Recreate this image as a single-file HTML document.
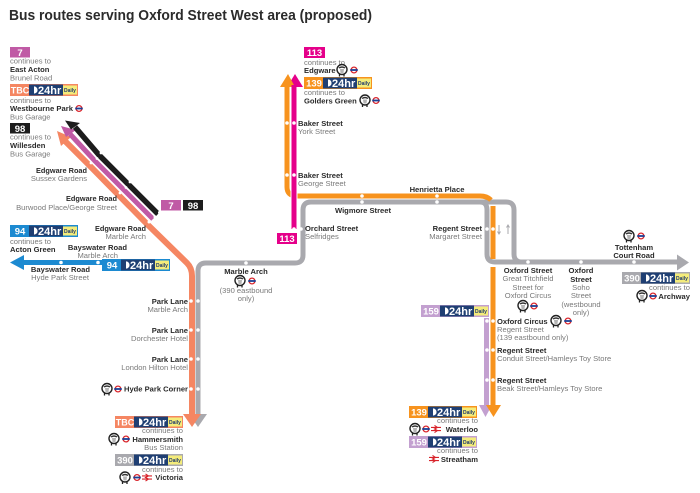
<!DOCTYPE html>
<html><head><meta charset="utf-8"><style>
html,body{margin:0;padding:0;background:#fff}
svg{display:block}
text{font-family:"Liberation Sans",sans-serif}
.b{font-size:7.6px;font-weight:bold;fill:#2a2a2a}
.g{font-size:7.6px;fill:#7a7a7a}
.r{text-anchor:end}.m{text-anchor:middle}
.n{font-size:9.5px;font-weight:bold;fill:#fff;text-anchor:middle}
.s{font-size:9px}
.h{font-size:11px;font-weight:bold;fill:#fff}
.d{font-size:5px;font-weight:bold;fill:#1f3a6e;text-anchor:middle}
.w{fill:#fff}
</style></head><body>
<svg width="700" height="493" viewBox="0 0 700 493" xmlns="http://www.w3.org/2000/svg">
<defs>
<g id="rd"><circle r="2.9" fill="none" stroke="#d8232a" stroke-width="1.3"/><rect x="-3.8" y="-0.9" width="7.6" height="1.8" fill="#1c3f94"/></g>
<g id="fc"><circle cy="-0.5" r="5" fill="#fff" stroke="#222" stroke-width="1.4"/><path d="M-3.5-2.500Q0-5 3.500-2.500L2.500-1.500Q0-3 -2.500-1.500Z" fill="#333"/><path d="M-2-1H2L1.500 3H-1.500Z" fill="#b5b5b5"/><path d="M-2.500 3.500V6.500M2 3.500V6.500" stroke="#222" stroke-width="1.300" fill="none"/></g>
<g id="nr" fill="none" stroke="#d8232a" stroke-width="1.1"><path d="M-5-1.600H5M-5 1.600H5M-1.500-3.600 1.500-1.600-1.500 0 1.500 1.600-1.500 3.600"/></g>
<g id="bb"><rect x="19" y="0.500" width="34" height="11" fill="#1f3f73"/><circle cx="24" cy="6" r="4.600" fill="#1f3f73"/><path d="M24 2.400A3.600 3.600 0 0 1 24 9.600Z" fill="#fff"/><rect x="53" y="1.500" width="14" height="9" fill="#f4ec7a"/></g>
</defs>

<text x="9" y="20" font-size="14.5" font-weight="bold" fill="#2b2b2b" textLength="363" lengthAdjust="spacingAndGlyphs">Bus routes serving Oxford Street West area (proposed)</text>

<!-- grey -->
<g fill="none" stroke="#a9a9ae" stroke-width="5">
<path d="M198 416V271Q198 263 206 263H295Q303 263 303 255V210Q303 202 311 202H506Q514 202 514 210V254Q514 262 522 262H678"/>
<path d="M480 202Q487 202 487 210V254Q487 262 495 262H522"/>
</g>
<path d="M189 414H207L198 427Z" fill="#a9a9ae"/>
<path d="M677 254.500V270.500L689 262.500Z" fill="#a9a9ae"/>

<!-- salmon -->
<path d="M65 141 89 165 147 224 187 263Q192 268 192 276V416" fill="none" stroke="#f58662" stroke-width="6"/>
<path d="M57 131 71 137 61 146Z" fill="#f58662"/>
<path d="M183 414H201L192 427Z" fill="#f58662"/>

<!-- purple/black diagonal -->
<path d="M70 134 95 161 153 219" fill="none" stroke="#c05aa5" stroke-width="5"/>
<path d="M61 126 76 130 66 137 Z" fill="#c05aa5"/>
<path d="M75 127 99 155 158 214" fill="none" stroke="#1c1c1c" stroke-width="5.500"/>
<path d="M65 120.500 80 123 71 129.500 Z" fill="#1c1c1c"/>

<!-- blue -->
<path d="M24 262.500H103" stroke="#1c8ad1" stroke-width="5"/>
<path d="M10 262.500 24 255V270Z" fill="#1c8ad1"/>

<!-- orange & magenta -->
<path d="M287 85V187Q287 196 297 196H480Q487 196 491 200" fill="none" stroke="#f7931e" stroke-width="5"/>
<path d="M295 74 287 87H303Z" fill="#e5008a"/>
<path d="M288 74 280 87H295Z" fill="#f7931e"/>
<path d="M294 180V229" stroke="#fff" stroke-width="7"/>
<path d="M294 85V229" stroke="#e5008a" stroke-width="5"/>
<path d="M493 206V259M493 267V406" stroke="#f7931e" stroke-width="5"/>
<path d="M486.500 318V406" stroke="#c3a0d0" stroke-width="5"/>
<path d="M479 405H492L485.500 417Z" fill="#c3a0d0"/>
<path d="M486 405H501L493.500 417Z" fill="#f7931e"/>

<!-- small direction arrows -->
<g fill="none" stroke="#a9a9ae" stroke-width="1"><path d="M499 225V234M497.500 231.500 499 234 500.500 231.500M508 225V234M506.500 227.500 508 225 509.500 227.500"/></g>

<!-- dots -->
<g class="w">
<circle cx="101" cy="153" r="1.400"/><circle cx="130" cy="182" r="1.400"/><circle cx="159.500" cy="212.500" r="1.500"/>
<circle cx="97" cy="158.500" r="1.400"/><circle cx="126" cy="187.500" r="1.400"/><circle cx="155" cy="217" r="1.500"/>
<circle cx="91" cy="163" r="1.400"/><circle cx="120" cy="193" r="1.400"/><circle cx="149" cy="222" r="1.500"/>
<circle cx="61" cy="262.500" r="1.800"/><circle cx="98" cy="262.500" r="1.800"/>
<circle cx="191" cy="301" r="1.800"/><circle cx="198" cy="301" r="1.800"/><circle cx="191" cy="330" r="1.800"/><circle cx="198" cy="330" r="1.800"/><circle cx="191" cy="359" r="1.800"/><circle cx="198" cy="359" r="1.800"/><circle cx="191" cy="389" r="1.800"/><circle cx="198" cy="389" r="1.800"/>
<circle cx="246" cy="263" r="1.800"/>
<circle cx="287" cy="123" r="1.800"/><circle cx="294" cy="123" r="1.800"/><circle cx="287" cy="175" r="1.800"/><circle cx="294" cy="175" r="1.800"/>
<circle cx="294" cy="229" r="1.800"/><circle cx="301" cy="229" r="1.800"/>
<circle cx="362" cy="196" r="1.800"/><circle cx="362" cy="202" r="1.800"/><circle cx="437" cy="196" r="1.800"/><circle cx="437" cy="202" r="1.800"/>
<circle cx="487" cy="229" r="1.800"/><circle cx="493" cy="229" r="1.800"/>
<circle cx="528" cy="262" r="1.800"/><circle cx="581" cy="262" r="1.800"/><circle cx="634" cy="262" r="1.800"/>
<circle cx="487" cy="321" r="1.800"/><circle cx="493" cy="321" r="1.800"/><circle cx="487" cy="350" r="1.800"/><circle cx="493" cy="350" r="1.800"/><circle cx="487" cy="380" r="1.800"/><circle cx="493" cy="380" r="1.800"/>
</g>

<!-- plain route badges -->
<rect x="10" y="47" width="20" height="10.500" fill="#c05aa5"/><text class="n" x="20" y="56">7</text>
<rect x="10" y="123" width="20" height="10.500" fill="#1c1c1c"/><text class="n" x="20" y="132">98</text>
<rect x="161" y="200" width="20" height="10.500" fill="#c05aa5"/><text class="n" x="171" y="209">7</text>
<rect x="183" y="200" width="20" height="10.500" fill="#1c1c1c"/><text class="n" x="193" y="209">98</text>
<rect x="304" y="47" width="21" height="11" fill="#e5008a"/><text class="n" x="314.500" y="56">113</text>
<rect x="277" y="233" width="20" height="11" fill="#e5008a"/><text class="n" x="287" y="242">113</text>

<!-- 24hr badges -->
<g transform="translate(10 84)"><rect width="68" height="12" fill="#f58662"/><use href="#bb"/><text class="n s" x="10" y="9.500">TBC</text><text class="h" x="28" y="10">24hr</text><text class="d" x="60" y="8">Daily</text></g>
<g transform="translate(10 225)"><rect width="68" height="12" fill="#1c8ad1"/><use href="#bb"/><text class="n" x="10" y="9.500">94</text><text class="h" x="28" y="10">24hr</text><text class="d" x="60" y="8">Daily</text></g>
<g transform="translate(102 259)"><rect width="68" height="12" fill="#1c8ad1"/><use href="#bb"/><text class="n" x="10" y="9.500">94</text><text class="h" x="28" y="10">24hr</text><text class="d" x="60" y="8">Daily</text></g>
<g transform="translate(115 416)"><rect width="68" height="12" fill="#f58662"/><use href="#bb"/><text class="n s" x="10" y="9.500">TBC</text><text class="h" x="28" y="10">24hr</text><text class="d" x="60" y="8">Daily</text></g>
<g transform="translate(115 454)"><rect width="68" height="12" fill="#a9a9ae"/><use href="#bb"/><text class="n" x="10" y="9.500">390</text><text class="h" x="28" y="10">24hr</text><text class="d" x="60" y="8">Daily</text></g>
<g transform="translate(304 77)"><rect width="68" height="12" fill="#f7931e"/><use href="#bb"/><text class="n" x="10" y="9.500">139</text><text class="h" x="28" y="10">24hr</text><text class="d" x="60" y="8">Daily</text></g>
<g transform="translate(421 305)"><rect width="68" height="12" fill="#c3a0d0"/><use href="#bb"/><text class="n" x="10" y="9.500">159</text><text class="h" x="28" y="10">24hr</text><text class="d" x="60" y="8">Daily</text></g>
<g transform="translate(409 406)"><rect width="68" height="12" fill="#f7931e"/><use href="#bb"/><text class="n" x="10" y="9.500">139</text><text class="h" x="28" y="10">24hr</text><text class="d" x="60" y="8">Daily</text></g>
<g transform="translate(409 436)"><rect width="68" height="12" fill="#c3a0d0"/><use href="#bb"/><text class="n" x="10" y="9.500">159</text><text class="h" x="28" y="10">24hr</text><text class="d" x="60" y="8">Daily</text></g>
<g transform="translate(622 272)"><rect width="68" height="12" fill="#a9a9ae"/><use href="#bb"/><text class="n" x="10" y="9.500">390</text><text class="h" x="28" y="10">24hr</text><text class="d" x="60" y="8">Daily</text></g>

<!-- labels: top left -->
<text class="g" x="10" y="63.500">continues to</text><text class="b" x="10" y="72">East Acton</text><text class="g" x="10" y="80.500">Brunel Road</text>
<text class="g" x="10" y="103">continues to</text><text class="b" x="10" y="111" textLength="63" lengthAdjust="spacingAndGlyphs">Westbourne Park</text><use href="#rd" x="79" y="108.500"/><text class="g" x="10" y="119.500">Bus Garage</text>
<text class="g" x="10" y="139.500">continues to</text><text class="b" x="10" y="148">Willesden</text><text class="g" x="10" y="156.500">Bus Garage</text>

<text class="b" x="36" y="173" textLength="51" lengthAdjust="spacingAndGlyphs">Edgware Road</text><text class="g r" x="87" y="181">Sussex Gardens</text>
<text class="b" x="66" y="201" textLength="51" lengthAdjust="spacingAndGlyphs">Edgware Road</text><text class="g r" x="117" y="210">Burwood Place/George Street</text>
<text class="b" x="95" y="231" textLength="51" lengthAdjust="spacingAndGlyphs">Edgware Road</text><text class="g r" x="146" y="239">Marble Arch</text>
<text class="g" x="10" y="244">continues to</text><text class="b" x="10" y="252">Acton Green</text>
<text class="b r" x="127" y="250">Bayswater Road</text><text class="g r" x="118" y="258">Marble Arch</text>
<text class="b r" x="90" y="272">Bayswater Road</text><text class="g r" x="89" y="280">Hyde Park Street</text>

<text class="b m" x="246" y="274">Marble Arch</text><use href="#fc" x="240" y="281"/><use href="#rd" x="252" y="281"/>
<text class="g m" x="246" y="293">(390 eastbound</text><text class="g m" x="246" y="301">only)</text>

<text class="b r" x="188" y="304">Park Lane</text><text class="g r" x="188" y="312">Marble Arch</text>
<text class="b r" x="188" y="333">Park Lane</text><text class="g r" x="188" y="341">Dorchester Hotel</text>
<text class="b r" x="188" y="362">Park Lane</text><text class="g r" x="188" y="370">London Hilton Hotel</text>
<text class="b" x="124" y="391.500" textLength="64" lengthAdjust="spacingAndGlyphs">Hyde Park Corner</text><use href="#rd" x="118" y="389"/><use href="#fc" x="107" y="389"/>

<text class="g r" x="183" y="433">continues to</text><text class="b r" x="183" y="442">Hammersmith</text><use href="#rd" x="126" y="439"/><use href="#fc" x="114" y="439"/><text class="g r" x="183" y="450">Bus Station</text>
<text class="g r" x="183" y="472">continues to</text><text class="b r" x="183" y="480">Victoria</text><use href="#nr" x="147" y="477.500"/><use href="#rd" x="137" y="477.500"/><use href="#fc" x="125" y="477.500"/>

<!-- top middle -->
<text class="g" x="304" y="65">continues to</text><text class="b" x="304" y="73">Edgware</text><use href="#fc" x="342" y="70"/><use href="#rd" x="354" y="70"/>
<text class="g" x="304" y="95">continues to</text><text class="b" x="304" y="103.500">Golders Green</text><use href="#fc" x="365" y="100.500"/><use href="#rd" x="376" y="100.500"/>
<text class="b" x="298" y="126">Baker Street</text><text class="g" x="298" y="134">York Street</text>
<text class="b" x="298" y="178">Baker Street</text><text class="g" x="298" y="186">George Street</text>
<text class="b" x="305" y="231">Orchard Street</text><text class="g" x="305" y="239">Selfridges</text>
<text class="b m" x="363" y="213">Wigmore Street</text>
<text class="b m" x="437" y="192">Henrietta Place</text>
<text class="b r" x="482" y="231">Regent Street</text><text class="g r" x="482" y="239">Margaret Street</text>

<!-- Oxford Street -->
<text class="b m" x="528" y="273">Oxford Street</text><text class="g m" x="528" y="281">Great Titchfield</text><text class="g m" x="528" y="290">Street for</text><text class="g m" x="528" y="298">Oxford Circus</text><use href="#fc" x="523" y="306"/><use href="#rd" x="534" y="306"/>
<text class="b m" x="581" y="273">Oxford</text><text class="b m" x="581" y="282">Street</text><text class="g m" x="581" y="290">Soho</text><text class="g m" x="581" y="298">Street</text><text class="g m" x="581" y="307">(westbound</text><text class="g m" x="581" y="315">only)</text>

<use href="#fc" x="629" y="236"/><use href="#rd" x="641" y="236"/>
<text class="b m" x="634" y="250">Tottenham</text><text class="b m" x="634" y="258">Court Road</text>
<text class="g r" x="690" y="290">continues to</text><text class="b r" x="690" y="299">Archway</text><use href="#rd" x="653" y="296"/><use href="#fc" x="642" y="296"/>

<text class="b" x="497" y="324">Oxford Circus</text><use href="#fc" x="556" y="321"/><use href="#rd" x="568" y="321"/><text class="g" x="497" y="332">Regent Street</text><text class="g" x="497" y="340">(139 eastbound only)</text>
<text class="b" x="497" y="353">Regent Street</text><text class="g" x="497" y="361">Conduit Street/Hamleys Toy Store</text>
<text class="b" x="497" y="383">Regent Street</text><text class="g" x="497" y="391">Beak Street/Hamleys Toy Store</text>

<text class="g r" x="478" y="423">continues to</text><text class="b r" x="478" y="432">Waterloo</text><use href="#nr" x="436" y="429"/><use href="#rd" x="426" y="429"/><use href="#fc" x="415" y="429"/>
<text class="g r" x="478" y="453">continues to</text><text class="b r" x="478" y="462">Streatham</text><use href="#nr" x="434" y="459"/>
</svg>
</body></html>
